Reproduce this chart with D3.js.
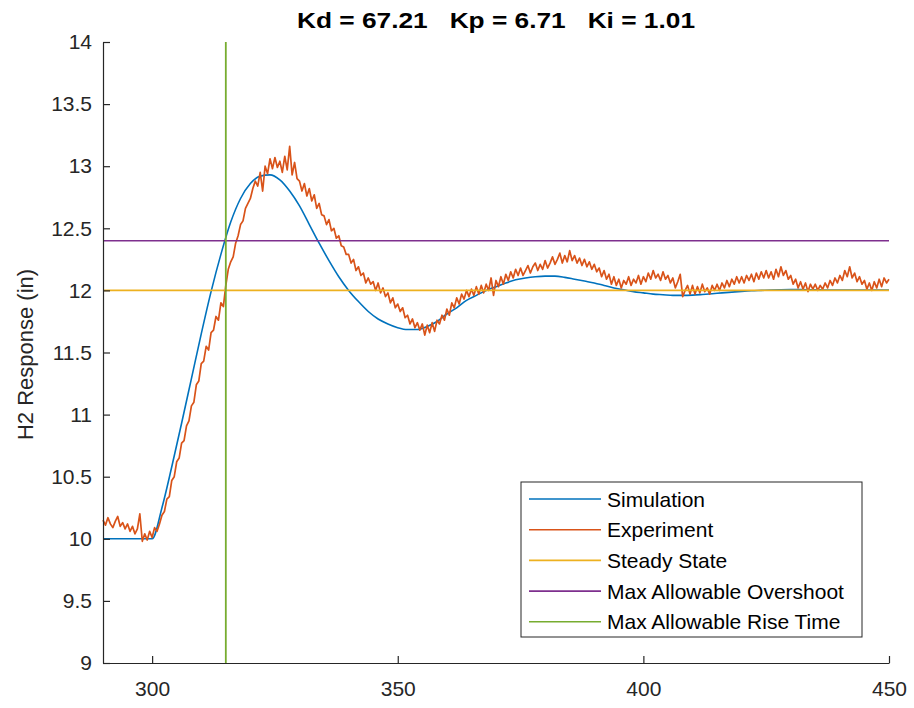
<!DOCTYPE html>
<html>
<head>
<meta charset="utf-8">
<script src="https://cdn.jsdelivr.net/npm/d3@7"></script>
<style>
  html, body { margin: 0; padding: 0; background: #fff; }
  svg { display: block; }
  text { font-family: "Liberation Sans", Arial, Helvetica, sans-serif; }
</style>
</head>
<body>
<svg id="chart" width="914" height="708"></svg>
<script>
// ---------- data ----------
const titleText = "Kd = 67.21   Kp = 6.71   Ki = 1.01";
const yLabel = "H2 Response (in)";
const xTicks = [300, 350, 400, 450];
const yTicks = [9, 9.5, 10, 10.5, 11, 11.5, 12, 12.5, 13, 13.5, 14];
const xDomain = [290, 450];
const yDomain = [9, 14];

// Simulation: sampled every 2 s from 290 to 450
const simStart = 290, simStep = 2;
const simValues = [
  10.00, 10.00, 10.00, 10.00, 10.00, 10.00,           // 290-300
  10.25, 10.58, 10.93, 11.29, 11.65, 11.99, 12.29,    // 302-314
  12.55, 12.74, 12.86, 12.92, 12.93, 12.89, 12.80,    // 316-328
  12.68, 12.53, 12.38, 12.24, 12.11, 12.00, 11.91,    // 330-342
  11.83, 11.77, 11.73, 11.70, 11.685, 11.685, 11.71,  // 344-356
  11.75, 11.81, 11.86, 11.92, 11.96, 12.00, 12.03,    // 358-370
  12.06, 12.085, 12.10, 12.11, 12.115, 12.115, 12.105,// 372-384
  12.09, 12.075, 12.06, 12.04, 12.02, 12.005, 11.99,  // 386-398
  11.98, 11.97, 11.965, 11.96, 11.96, 11.962, 11.967, // 400-412
  11.973, 11.98, 11.986, 11.992, 11.997, 12.00, 12.003, // 414-426
  12.005, 12.006, 12.006, 12.005, 12.004, 12.003, 12.003, // 428-440
  12.002, 12.002, 12.002, 12.002, 12.002              // 442-450
];

// Experiment: sampled every 0.5 s from 290 to 450
const expStart = 290, expStep = 0.5;
const expValues = [
  10.15, 10.11, 10.17, 10.12, 10.09, 10.14, 10.18, 10.10, 10.13, 10.08,
  10.12, 10.06, 10.10, 10.04, 10.08, 10.20, 9.98, 10.04, 9.99, 10.06,
  10.01, 10.09, 10.06, 10.12, 10.19, 10.22, 10.32, 10.34, 10.47, 10.50,
  10.62, 10.65, 10.77, 10.79, 10.91, 10.95, 11.07, 11.10, 11.24, 11.27,
  11.41, 11.43, 11.55, 11.52, 11.66, 11.68, 11.79, 11.76, 11.90, 11.87,
  12.04, 12.17, 12.23, 12.27, 12.38, 12.44, 12.53, 12.56, 12.66, 12.70,
  12.74, 12.82, 12.88, 12.84, 12.95, 12.80, 13.00, 12.94, 13.06, 12.98,
  13.07, 12.99, 13.04, 12.95, 13.08, 12.97, 13.16, 12.93, 13.03, 12.90,
  12.88, 12.80, 12.86, 12.76, 12.82, 12.72, 12.77, 12.66, 12.70, 12.61,
  12.60, 12.53, 12.57, 12.48, 12.50, 12.42, 12.44, 12.36, 12.35, 12.29,
  12.29, 12.22, 12.25, 12.16, 12.19, 12.12, 12.14, 12.06, 12.10, 12.05,
  12.07, 12.00, 12.06, 11.98, 12.02, 11.95, 11.98, 11.90, 11.94, 11.86,
  11.89, 11.83, 11.86, 11.78, 11.80, 11.73, 11.77, 11.70, 11.74, 11.68,
  11.73, 11.64, 11.72, 11.66, 11.74, 11.67, 11.76, 11.73, 11.80, 11.76,
  11.85, 11.80, 11.90, 11.86, 11.94, 11.89, 11.97, 11.93, 12.00, 11.95,
  12.01, 11.96, 12.03, 11.97, 12.04, 11.98, 12.05, 12.00, 12.10, 11.96,
  12.08, 12.03, 12.11, 12.05, 12.13, 12.08, 12.15, 12.10, 12.17, 12.12,
  12.18, 12.12, 12.16, 12.20, 12.14, 12.19, 12.22, 12.16, 12.21, 12.17,
  12.24, 12.18, 12.22, 12.27, 12.21, 12.25, 12.30, 12.22, 12.28, 12.23,
  12.32, 12.24, 12.28, 12.22, 12.26, 12.20, 12.25, 12.19, 12.23, 12.17,
  12.21, 12.15, 12.18, 12.11, 12.16, 12.09, 12.13, 12.05, 12.11, 12.04,
  12.09, 12.02, 12.08, 12.05, 12.11, 12.04, 12.09, 12.06, 12.12, 12.05,
  12.11, 12.07, 12.14, 12.09, 12.16, 12.10, 12.13, 12.08, 12.15, 12.09,
  12.12, 12.06, 12.10, 12.02, 12.07, 12.13, 11.95, 12.00, 12.04, 11.97,
  12.04, 11.97, 12.03, 11.98, 12.05, 11.99, 12.02, 11.97, 12.04, 12.00,
  12.05, 12.00, 12.06, 12.02, 12.08, 12.03, 12.09, 12.05, 12.11, 12.06,
  12.11, 12.06, 12.12, 12.08, 12.13, 12.07, 12.14, 12.09, 12.15, 12.10,
  12.16, 12.10, 12.15, 12.09, 12.17, 12.11, 12.19, 12.12, 12.16, 12.09,
  12.12, 12.05, 12.09, 12.02, 12.07, 12.01, 12.06, 11.99, 12.05, 12.01,
  12.05, 12.00, 12.04, 12.01, 12.06, 12.02, 12.08, 12.04, 12.10, 12.06,
  12.12, 12.08, 12.16, 12.11, 12.19, 12.10, 12.14, 12.07, 12.11, 12.05,
  12.08, 12.01, 12.06, 12.00, 12.07, 12.02, 12.09, 12.03, 12.10, 12.06,
  12.09
];

const steadyState = 12;
const maxOvershoot = 12.4;
const maxRiseTime = 315;

const seriesNames = ["Simulation", "Experiment", "Steady State", "Max Allowable Overshoot", "Max Allowable Rise Time"];
const seriesColors = ["#0072BD", "#D95319", "#EDB120", "#7E2F8E", "#77AC30"];

// ---------- layout ----------
const svg = d3.select("#chart");
const m = { left: 103, right: 889, top: 42, bottom: 663 };
const x = d3.scaleLinear().domain(xDomain).range([m.left, m.right]);
const y = d3.scaleLinear().domain(yDomain).range([m.bottom, m.top]);
const axisColor = "#262626";
const fontFam = "'Liberation Sans', Arial, sans-serif";

const simData = simValues.map((v, i) => [simStart + i * simStep, v]);
const expData = expValues.map((v, i) => [expStart + i * expStep, v]);

const plot = svg.append("g");

// Simulation
plot.append("path").datum(simData)
  .attr("d", d3.line().x(d => x(d[0])).y(d => y(d[1])).curve(d3.curveMonotoneX))
  .attr("fill", "none").attr("stroke", seriesColors[0]).attr("stroke-width", 1.6);

// Experiment
plot.append("path").datum(expData)
  .attr("d", d3.line().x(d => x(d[0])).y(d => y(d[1])))
  .attr("fill", "none").attr("stroke", seriesColors[1]).attr("stroke-width", 1.7)
  .attr("stroke-linejoin", "round");

// Steady state
plot.append("line")
  .attr("x1", x(xDomain[0])).attr("x2", x(xDomain[1]))
  .attr("y1", y(steadyState)).attr("y2", y(steadyState))
  .attr("stroke", seriesColors[2]).attr("stroke-width", 1.6);

// Max overshoot
plot.append("line")
  .attr("x1", x(xDomain[0])).attr("x2", x(xDomain[1]))
  .attr("y1", y(maxOvershoot)).attr("y2", y(maxOvershoot))
  .attr("stroke", seriesColors[3]).attr("stroke-width", 1.6);

// Max rise time
plot.append("line")
  .attr("x1", x(maxRiseTime)).attr("x2", x(maxRiseTime))
  .attr("y1", y(yDomain[0])).attr("y2", y(yDomain[1]))
  .attr("stroke", seriesColors[4]).attr("stroke-width", 1.8);

// ---------- axes ----------
const xAxis = d3.axisBottom(x).tickValues(xTicks).tickSizeInner(-7).tickSizeOuter(0).tickPadding(18).tickFormat(d3.format("d"));
const gx = svg.append("g").attr("transform", `translate(0,${m.bottom})`).call(xAxis);
gx.select(".domain").attr("stroke", axisColor).attr("stroke-width", 1.2);
gx.selectAll(".tick line").attr("stroke", axisColor).attr("stroke-width", 1.2);
gx.selectAll(".tick text").attr("fill", axisColor).style("font-size", "21px").style("font-family", fontFam);

const yAxis = d3.axisLeft(y).tickValues(yTicks).tickSizeInner(-7).tickSizeOuter(0).tickPadding(11).tickFormat(d3.format("~g"));
const gy = svg.append("g").attr("transform", `translate(${m.left},0)`).call(yAxis);
gy.select(".domain").attr("stroke", axisColor).attr("stroke-width", 1.2);
gy.selectAll(".tick line").attr("stroke", axisColor).attr("stroke-width", 1.2);
gy.selectAll(".tick text").attr("fill", axisColor).style("font-size", "21px").style("font-family", fontFam);

// Title
svg.append("text")
  .attr("x", (m.left + m.right) / 2).attr("y", 28)
  .attr("text-anchor", "middle")
  .attr("fill", "#000")
  .attr("textLength", 398)
  .attr("lengthAdjust", "spacingAndGlyphs")
  .attr("xml:space", "preserve")
  .style("white-space", "pre")
  .style("font-size", "22px").style("font-weight", "bold")
  .text(titleText);

// Y label
svg.append("text")
  .attr("transform", `translate(33,${(m.top + m.bottom) / 2 + 2}) rotate(-90)`)
  .attr("text-anchor", "middle")
  .attr("fill", axisColor)
  .style("font-size", "22px")
  .text(yLabel);

// ---------- legend ----------
const lg = svg.append("g");
const lx0 = 521, ly0 = 482, lw = 341, lh = 155;
lg.append("rect").attr("x", lx0).attr("y", ly0).attr("width", lw).attr("height", lh)
  .attr("fill", "#fff").attr("stroke", axisColor).attr("stroke-width", 1);
seriesNames.forEach((name, i) => {
  const cy = ly0 + 17 + i * 30.7;
  lg.append("line").attr("x1", lx0 + 8).attr("x2", lx0 + 80).attr("y1", cy).attr("y2", cy)
    .attr("stroke", seriesColors[i]).attr("stroke-width", 1.6);
  lg.append("text").attr("x", lx0 + 86).attr("y", cy + 7.5)
    .attr("fill", "#000").style("font-size", "21px").text(name);
});
</script>
</body>
</html>
